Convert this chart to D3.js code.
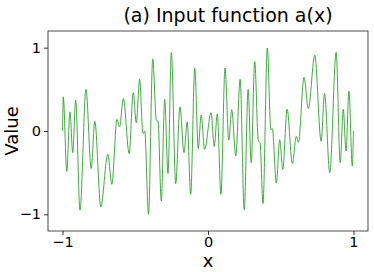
<!DOCTYPE html>
<html>
<head>
<meta charset="utf-8">
<script src="https://cdn.jsdelivr.net/npm/d3@7"></script>
<style>
  body { margin: 0; background: #fff; }
  text { font-family: "DejaVu Sans", sans-serif; fill: #000; }
</style>
</head>
<body>
<div id="chart"></div>
<script>
// values (peaks, troughs and shoulders of a(x))
const xs = [-1.0, -0.995, -0.971, -0.949, -0.930, -0.910, -0.880, -0.839, -0.803, -0.778,
  -0.737, -0.689, -0.661, -0.626, -0.608, -0.582, -0.542, -0.514, -0.493, -0.470,
  -0.447, -0.435, -0.409, -0.380, -0.355, -0.344, -0.321, -0.298, -0.275, -0.252,
  -0.222, -0.193, -0.165, -0.143, -0.119, -0.091, -0.067, -0.047, -0.023, 0.021,
  0.043, 0.064, 0.089, 0.117, 0.143, 0.163, 0.191, 0.221, 0.249, 0.276,
  0.297, 0.321, 0.346, 0.358, 0.378, 0.408, 0.432, 0.442, 0.470, 0.493,
  0.514, 0.544, 0.580, 0.607, 0.622, 0.660, 0.690, 0.734, 0.778, 0.801,
  0.837, 0.881, 0.909, 0.930, 0.949, 0.969, 0.992, 1.0];
const ys = [0, 0.41, -0.485, 0.23, -0.26, 0.37, -0.95, 0.50, -0.45, 0.115,
  -0.91, -0.28, -0.64, 0.14, 0.05, 0.39, -0.27, 0.46, 0.10, 0.62,
  -0.03, 0.0, -1.0, 0.865, 0.13, 0.12, -0.84, 0.38, -0.51, 0.94,
  -0.63, 0.29, -0.26, 0.11, -0.76, 0.755, -0.21, 0.19, -0.22, 0.22,
  -0.185, 0.205, -0.76, 0.755, -0.11, 0.255, -0.30, 0.62, -0.945, 0.50,
  -0.38, 0.835, -0.12, -0.14, -0.87, 0.995, 0.015, 0.03, -0.625, -0.105,
  -0.46, 0.26, -0.39, -0.065, -0.135, 0.645, 0.27, 0.91, -0.125, 0.45,
  -0.50, 0.945, -0.38, 0.26, -0.24, 0.48, -0.42, 0];
const xTicks = [-1, 0, 1];
const yTicks = [-1, 0, 1];

const W = 374, H = 272;
const margin = {top: 31, right: 6, bottom: 41, left: 48};
const w = W - margin.left - margin.right;
const h = H - margin.top - margin.bottom;

const svg = d3.select("#chart").append("svg")
  .attr("width", W).attr("height", H);

const x = d3.scaleLinear().domain([-1.1, 1.1]).range([0, w]);
const y = d3.scaleLinear().domain([-1.2, 1.2]).range([h, 0]);

const g = svg.append("g")
  .attr("transform", "translate(" + margin.left + "," + margin.top + ")");

const data = xs.map((d, i) => [d, ys[i]]);

g.append("path")
  .datum(data)
  .attr("fill", "none")
  .attr("stroke", "#2ca02c")
  .attr("stroke-width", 0.9)
  .attr("d", d3.line()
    .x(d => x(d[0]))
    .y(d => y(d[1]))
    .curve(d3.curveMonotoneX));

// axes
const xAxis = g.append("g")
  .attr("transform", "translate(0," + h + ")")
  .call(d3.axisBottom(x).tickValues(xTicks).tickSize(4).tickPadding(2)
    .tickFormat(d => d < 0 ? "\u2212" + Math.abs(d) : d));
const yAxis = g.append("g")
  .call(d3.axisLeft(y).tickValues(yTicks).tickSize(4).tickPadding(3)
    .tickFormat(d => d < 0 ? "\u2212" + Math.abs(d) : d));

[xAxis, yAxis].forEach(a => {
  a.select(".domain").remove();
  a.selectAll("line").attr("stroke", "#000").attr("stroke-width", 0.8);
  a.selectAll("text").style("font-size", "14.5px").attr("fill", "#000");
});

g.append("rect")
  .attr("width", w).attr("height", h)
  .attr("fill", "none")
  .attr("stroke", "#222")
  .attr("stroke-width", 0.8);

// labels
svg.append("text")
  .attr("x", 228).attr("y", 22)
  .attr("text-anchor", "middle")
  .style("font-size", "19px")
  .text("(a) Input function a(x)");

svg.append("text")
  .attr("x", margin.left + x(0)).attr("y", 267)
  .attr("text-anchor", "middle")
  .style("font-size", "18px")
  .text("x");

svg.append("text")
  .attr("transform", "translate(18," + (margin.top + h / 2) + ") rotate(-90)")
  .attr("text-anchor", "middle")
  .style("font-size", "18px")
  .text("Value");
</script>
</body>
</html>
